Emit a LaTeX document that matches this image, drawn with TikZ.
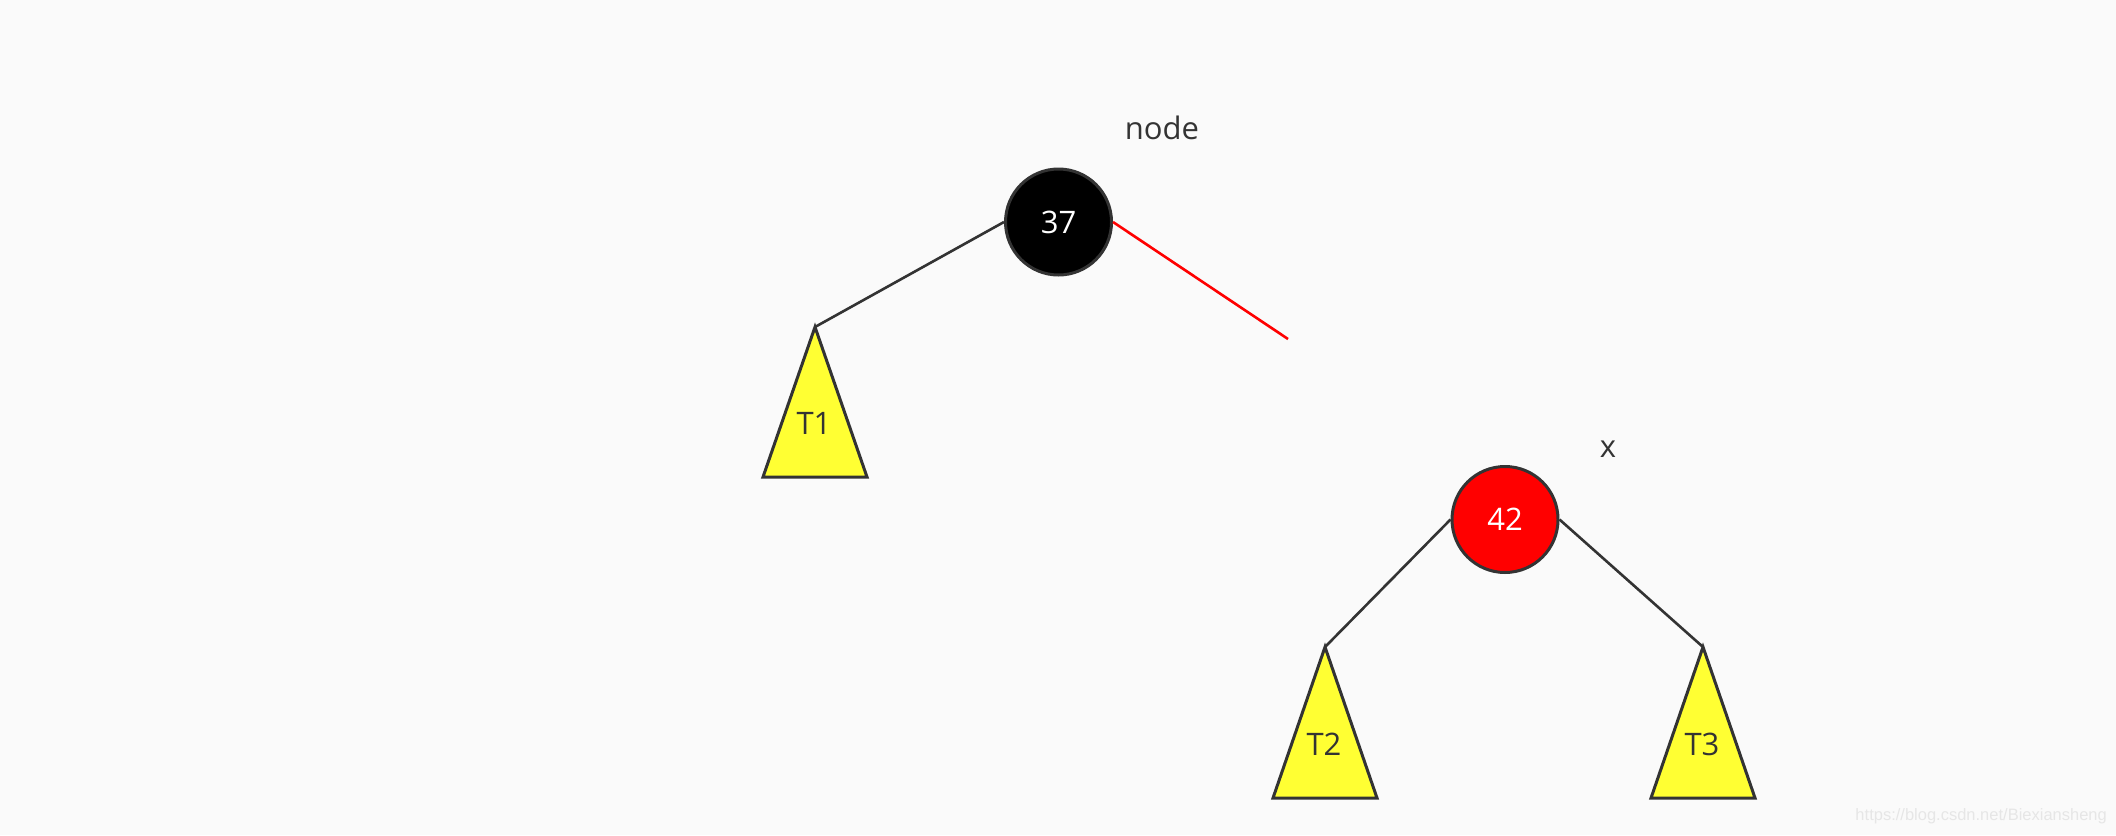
\documentclass[tikz,border=0pt]{standalone}
\usepackage{fontspec}
\setmainfont{Open Sans}
\newfontfamily\wmfont{Liberation Sans}
\definecolor{bg}{HTML}{FAFAFA}
\definecolor{ink}{HTML}{333333}
\definecolor{tyellow}{HTML}{FFFF33}
\definecolor{wm}{HTML}{E6E6E6}
\begin{document}
\begin{tikzpicture}[x=1pt,y=-1pt,
  rbnode/.style={circle, draw=ink, line width=3pt, minimum size=106pt, inner sep=0pt, text=white, font=\fontsize{31}{31}\selectfont},
  tree/.style={draw=ink, line width=3pt, fill=tyellow, line join=miter},
  edge/.style={draw=ink, line width=2.6pt},
  redge/.style={draw=red, line width=2.6pt},
  lbl/.style={text=ink, font=\fontsize{31}{31}\selectfont, inner sep=0pt}]
\fill[bg] (0,0) rectangle (2116,835);
\useasboundingbox (0,0) rectangle (2116,835);

% nodes
\node[rbnode, fill=black] (n37) at (1058.5,222) {37};
\node[rbnode, fill=red] (n42) at (1505,519.5) {42};
\node[lbl] (lnode) at (1162,128) {node};
\node[lbl] (lx) at (1608,449) {x};

% subtree apexes
\coordinate (t1apex) at (815,327);
\coordinate (t2apex) at (1325,647);
\coordinate (t3apex) at (1703,647);
\coordinate (redend) at (1288,339);

% subtrees
\draw[tree] (t1apex) -- (763,477) -- (867,477) -- cycle;
\draw[tree] (t2apex) -- (1273,798) -- (1377,798) -- cycle;
\draw[tree] (t3apex) -- (1651,798) -- (1755,798) -- cycle;
\node[lbl] (t1) at (814,423) {T1};
\node[lbl] (t2) at (1324,744) {T2};
\node[lbl] (t3) at (1702,744) {T3};

% connectors
\draw[edge] (n37.west) -- (t1apex);
\draw[redge] (n37.east) -- (redend);
\draw[edge] (n42.west) -- (t2apex);
\draw[edge] (n42.east) -- (t3apex);

% watermark
\node[text=wm, font=\wmfont\fontsize{16.5}{16.5}\selectfont, inner sep=0pt, anchor=east] (wmark) at (2107,816) {https://blog.csdn.net/Biexiansheng};
\end{tikzpicture}
\end{document}
